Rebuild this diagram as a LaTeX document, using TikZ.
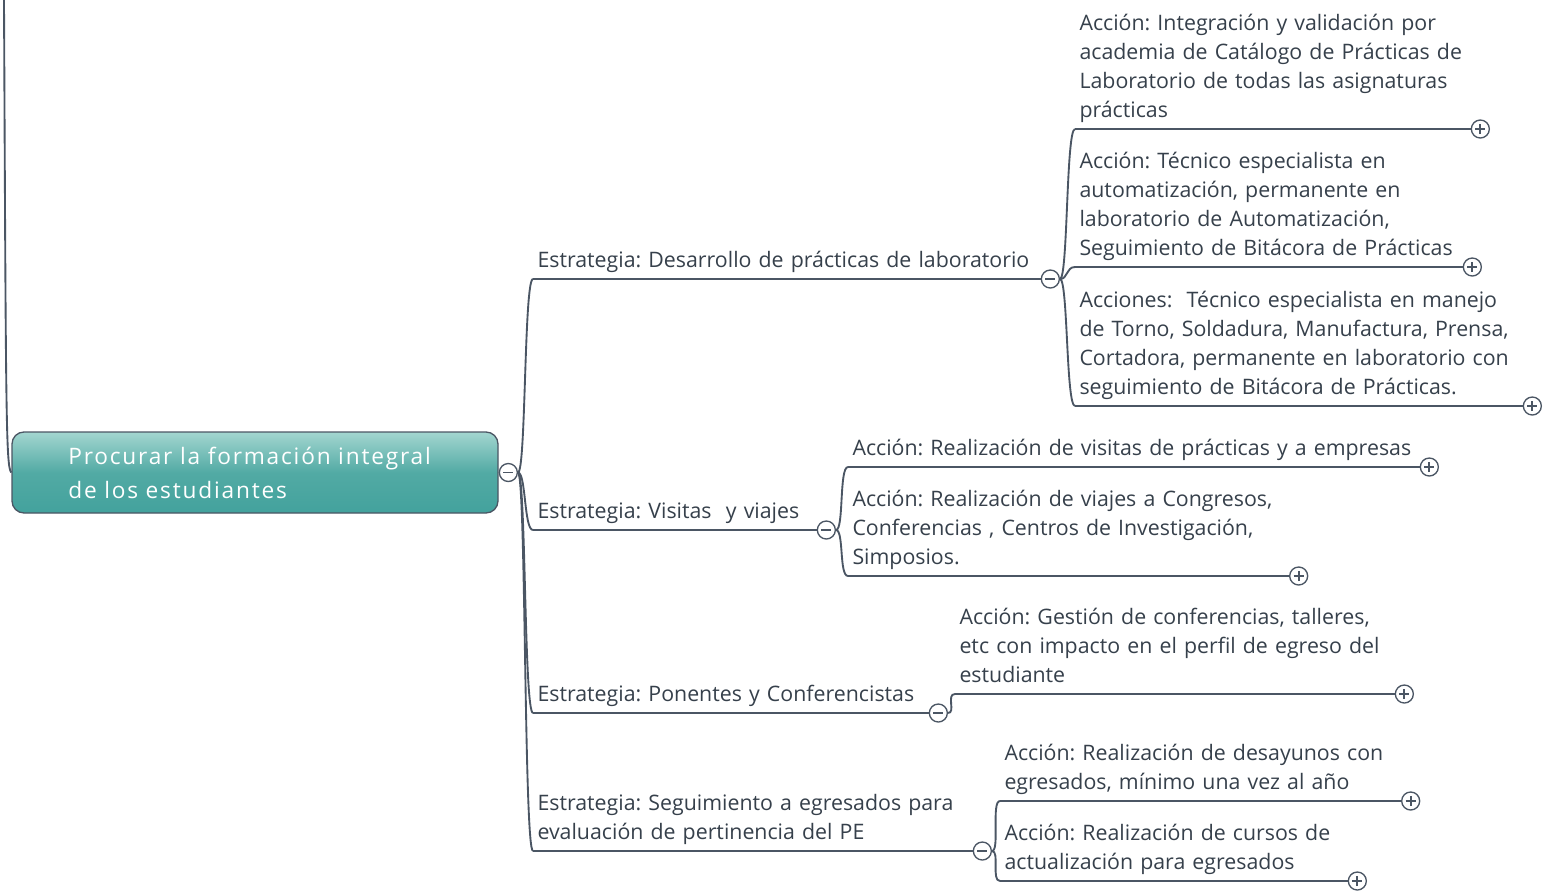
\documentclass[tikz,border=0pt]{standalone}
\usepackage{fontspec}
\setmainfont{Open Sans}
\usetikzlibrary{positioning}
\definecolor{inkgray}{HTML}{36404B}
\definecolor{linegray}{HTML}{4B5664}
\definecolor{tealtop}{HTML}{A3D6D0}
\definecolor{tealmid}{HTML}{52AAA4}
\definecolor{tealbot}{HTML}{43A29D}
\frenchspacing

\tikzset{every picture/.style={line width=0.75pt}}
\tikzset{
  topic/.style={anchor=south west, align=left, inner xsep=3pt, inner ysep=2pt,
    text=inkgray, font=\fontsize{16}{21.75}\selectfont, execute at end node=\strut},
  link/.style={draw=linegray, line width=1.4pt},
  btn/.style={circle, draw=linegray, fill=white, line width=1pt, minimum size=13.5pt,
    inner sep=0pt, anchor=west},
  minusbtn/.style={btn, path picture={
    \draw[linegray, line width=1.4pt] ([xshift=-3.8pt]path picture bounding box.center)
      -- ([xshift=3.8pt]path picture bounding box.center);}},
  plusbtn/.style={btn, path picture={
    \draw[linegray, line width=1.4pt] ([xshift=-3.8pt]path picture bounding box.center)
      -- ([xshift=3.8pt]path picture bounding box.center);
    \draw[linegray, line width=1.4pt] ([yshift=-3.8pt]path picture bounding box.center)
      -- ([yshift=3.8pt]path picture bounding box.center);}},
  rootbox/.style={rounded corners=9pt, draw=linegray, line width=1pt,
    top color=tealtop, bottom color=tealbot, middle color=tealmid,
    minimum width=364.5pt, minimum height=60.75pt, text width=280pt, inner xsep=0pt,
    align=left, text=white, font=\fontsize{17}{25.5}\selectfont\addfontfeature{LetterSpace=8}}
}

\begin{document}
\begin{tikzpicture}[x=0.75pt,y=0.75pt,yscale=-1,xscale=1]
\useasboundingbox (0,0) rectangle (1543,890);

% root
\node[rootbox] (root) at (255,472.5) {Procurar la formación integral\\de los estudiantes};
\node[minusbtn] (m0) at (root.east) {};
\coordinate (rootin) at (4,0);
\draw[link] (rootin) .. controls (6,420) and (6,467) .. (root.west);

% strategies
\node[topic, text width=374pt] (est1) at (533,279) {Estrategia: Desarrollo de prácticas de laboratorio};
\node[topic, text width=206pt] (est2) at (533,530) {Estrategia: Visitas~ y viajes};
\node[topic, text width=290pt] (est3) at (533,713) {Estrategia: Ponentes y Conferencistas};
\node[topic, text width=323pt] (est4) at (533,851) {Estrategia: Seguimiento a egresados para\\evaluación de pertinencia del PE};

% actions
\node[topic, text width=290pt] (acc1) at (1075,129) {Acción: Integración y validación por\\academia de Catálogo de Prácticas de\\Laboratorio de todas las asignaturas\\prácticas};
\node[topic, text width=284pt] (acc2) at (1075,267) {Acción: Técnico especialista en\\automatización, permanente en\\laboratorio de Automatización,\\Seguimiento de Bitácora de Prácticas};
\node[topic, text width=329pt] (acc3) at (1075,406) {Acciones:~ Técnico especialista en manejo\\de Torno, Soldadura, Manufactura, Prensa,\\Cortadora, permanente en laboratorio con\\seguimiento de Bitácora de Prácticas.};
\node[topic, text width=422pt] (vis1) at (848,467) {Acción: Realización de visitas de prácticas y a empresas};
\node[topic, text width=324pt] (vis2) at (848,576) {Acción: Realización de viajes a Congresos,\\Conferencias , Centros de Investigación,\\Simposios.};
\node[topic, text width=323pt] (pon1) at (955,694) {Acción: Gestión de conferencias, talleres,\\etc con impacto en el perfil de egreso del\\estudiante};
\node[topic, text width=294pt] (egr1) at (1000,801) {Acción: Realización de desayunos con\\egresados, mínimo una vez al año};
\node[topic, text width=254pt] (egr2) at (1000,881) {Acción: Realización de cursos de\\actualización para egresados};

% underlines and buttons
\foreach \t in {est1,est2,est3,est4,acc1,acc2,acc3,vis1,vis2,pon1,egr1,egr2}
  \draw[link] (\t.south west) -- (\t.south east);
\foreach \t/\n in {est1/m1,est2/m2,est3/m3,est4/m4}
  \node[minusbtn] (\n) at (\t.south east) {};
\foreach \t in {acc1,acc2,acc3,vis1,vis2,pon1,egr1,egr2}
  \node[plusbtn] (p\t) at (\t.south east) {};

% branches
\foreach \a/\b in {m0/est1,m0/est2,m0/est3,m0/est4,m1/acc1,m1/acc2,m1/acc3,m2/vis1,m2/vis2,m3/pon1,m4/egr1,m4/egr2}
  \draw[link] (\a.east) .. controls +(8,0) and +(-9,0) .. (\b.south west);

\end{tikzpicture}
\end{document}
